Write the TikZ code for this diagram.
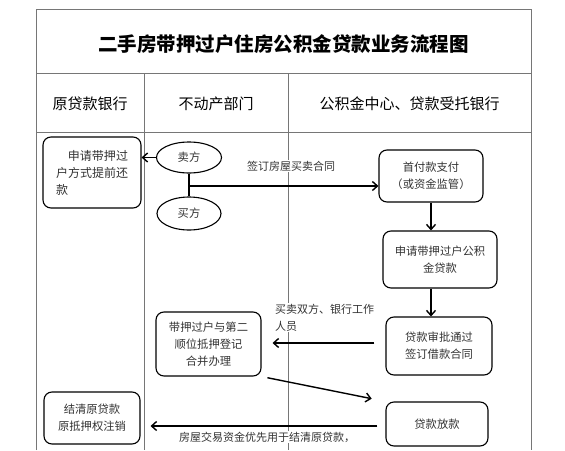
\documentclass[tikz,border=0pt]{standalone}
\usepackage{fontspec}
\usepackage{tikz}
\usetikzlibrary{positioning,calc}
\usetikzlibrary{shapes.geometric,arrows.meta}
\newfontfamily\cjk{Noto Sans CJK SC}
\definecolor{gridgray}{HTML}{767676}
\definecolor{txtgray}{HTML}{333333}

\begin{document}
\begin{tikzpicture}[x=1pt,y=-1pt,
            box/.style={draw,rounded corners=8pt,line width=1.1pt,align=center,inner sep=2pt,
                        font=\cjk\fontsize{11.3}{17}\selectfont,text=txtgray},
            oval/.style={draw,ellipse,line width=1.1pt,inner sep=0pt,
                         font=\cjk\fontsize{11.3}{17}\selectfont,text=txtgray},
            arr/.style={-{Straight Barb[length=5pt,width=9pt]},line width=1.4pt},
            lbl/.style={fill=white,inner sep=1pt,font=\cjk\fontsize{11}{17}\selectfont,text=txtgray}]
            \useasboundingbox (0,0) rectangle (565,450);

            % frame
            \draw[gridgray,line width=0.8pt] (36,450) -- (36,9) -- (531,9) -- (531,450);
            \draw[gridgray,line width=0.8pt] (36,73) -- (531,73);
            \draw[gridgray,line width=0.8pt] (36,132) -- (531,132);
            \draw[gridgray,line width=0.8pt] (144,73) -- (144,450);
            \draw[gridgray,line width=0.8pt] (288,73) -- (288,450);

            \node (title) at (283.5,44) {\cjk\bfseries\fontsize{19.5}{23}\selectfont 二手房带押过户住房公积金贷款业务流程图};
            \node (hdbank) at (90,104) {\cjk\fontsize{15}{18}\selectfont 原贷款银行};
            \node (hdreal) at (216,104) {\cjk\fontsize{15}{18}\selectfont 不动产部门};
            \node (hdfund) at (409.5,104) {\cjk\fontsize{15}{18}\selectfont 公积金中心、贷款受托银行};

            % nodes
            \node[box,minimum width=98pt,minimum height=71pt,align=left,font=\cjk\fontsize{12}{17}\selectfont] (prepay) at (92,172.5) {\hspace{1em}申请带押过\\户方式提前还\\款};
            \node[oval,minimum width=65pt,minimum height=31pt] (seller) at (189,157.5) {卖方};
            \node[oval,minimum width=64pt,minimum height=33pt] (buyer) at (189,213.5) {买方};
            \node[box,minimum width=104pt,minimum height=52pt] (downpay) at (431,176) {首付款支付\\（或资金监管）};
            \node[box,minimum width=114pt,minimum height=57pt] (apply) at (440,259.5) {申请带押过户公积\\金贷款};
            \node[box,minimum width=106pt,minimum height=58pt] (approve) at (439,346) {贷款审批通过\\签订借款合同};
            \node[box,minimum width=105pt,minimum height=64pt] (transfer) at (208.5,344) {带押过户与第二\\顺位抵押登记\\合并办理};
            \node[box,minimum width=102pt,minimum height=44pt] (release) at (437,424) {贷款放款};
            \node[box,minimum width=96pt,minimum height=52pt] (settle) at (92,418) {结清原贷款\\原抵押权注销};
            \coordinate (join) at (189,186);

            % connectors
            \draw[arr] (seller.west) -- (prepay.east |- seller.west);
            \draw[line width=1.4pt] (seller.south) -- (buyer.north);
            \draw[arr] (join) -- (join -| downpay.west);
            \draw[arr] (downpay.south) -- (downpay.south |- apply.north);
            \draw[arr] (downpay.south |- apply.south) -- (downpay.south |- approve.north);
            \draw[arr,shorten <=11pt,shorten >=11pt] ([yshift=3pt]approve.west) -- ([yshift=3pt]approve.west -| transfer.east);
            \draw[arr,shorten <=6pt,shorten >=14pt] (transfer.south east) -- (release.north west);
            \draw[arr,shorten <=8pt,shorten >=10pt] ([yshift=-2pt]release.west) -- ([yshift=-2pt]release.west -| settle.east);

            \node[lbl] (lbcontract) at (291,166) {签订房屋买卖合同};
            \node[lbl,anchor=north west,align=left] (lbparty) at (274,303) {买卖双方、银行工作\\人员};
            \node[lbl] (lbfunds) at (267,437) {房屋交易资金优先用于结清原贷款，};
        \end{tikzpicture}
\end{document}
